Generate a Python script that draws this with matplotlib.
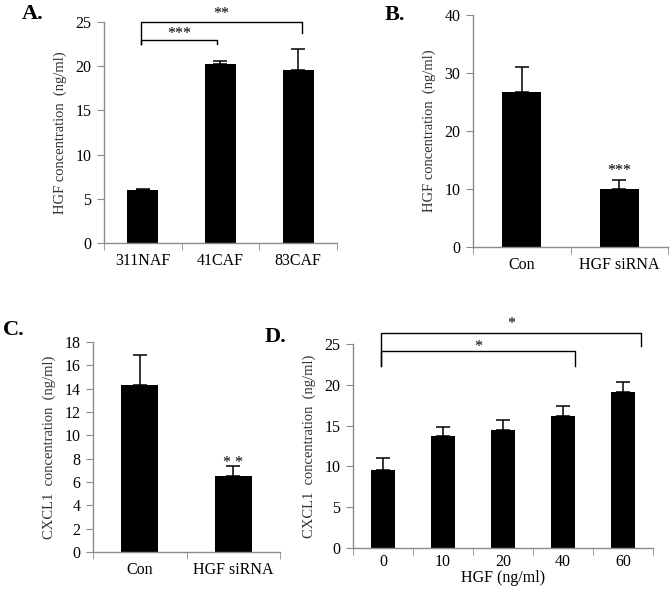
import numpy as np
from matplotlib import pyplot as plt

plt.rcParams['font.family'] = ['Liberation Serif', 'DejaVu Serif']

# panel A
a_cats = ["311NAF", "41CAF", "83CAF"]
a_vals = [6.0, 20.2, 19.6]
a_err = [0.1, 0.35, 2.3]

# panel B
b_cats = ["Con", "HGF siRNA"]
b_vals = [26.8, 10.0]
b_err = [4.2, 1.5]

# panel C
c_cats = ["Con", "HGF siRNA"]
c_vals = [14.3, 6.5]
c_err = [2.6, 0.9]

# panel D
d_cats = ["0", "10", "20", "40", "60"]
d_vals = [9.5, 13.7, 14.5, 16.2, 19.1]
d_err = [1.5, 1.1, 1.2, 1.2, 1.3]

W, H = 671, 590
fig = plt.figure(figsize=(W / 100, H / 100), dpi=100)

gray = "#8c8c8c"


def box(l, t, r, b):
    return [l / W, 1 - b / H, (r - l) / W, (b - t) / H]


def bars(ax, cats, vals, err, ymax, step, ylabel, bw=0.4, xpad=7):
    n = len(cats)
    x = np.arange(n)
    ax.bar(x, vals, width=bw, color="black", zorder=2)
    ax.errorbar(x, vals, yerr=[np.zeros(n), err], fmt="none", ecolor="black",
                elinewidth=1.1, capsize=5, capthick=1.1, zorder=3)
    ax.set_xlim(-0.5, n - 0.5)
    ax.set_ylim(0, ymax)
    ax.set_yticks(np.arange(0, ymax + 0.01, step))
    ax.set_xticks(x)
    ax.set_xticklabels(cats)
    ax.set_xticks(np.arange(-0.5, n, 1.0), minor=True)
    ax.tick_params(axis="x", which="major", length=0, labelsize=11.5, pad=xpad)
    ax.tick_params(axis="x", which="minor", length=5, color=gray, direction="out")
    ax.tick_params(axis="y", length=5, color=gray, labelsize=11.5, pad=4)
    for s in ["top", "right"]:
        ax.spines[s].set_visible(False)
    for s in ["left", "bottom"]:
        ax.spines[s].set_color(gray)
        ax.spines[s].set_linewidth(1.0)
    ax.set_ylabel(ylabel, fontsize=10.5, color="#333333", labelpad=6)


def bracket(ax, x1, x2, y, y1, y2, txt, ty):
    ax.plot([x1, x1, x2, x2], [y1, y, y, y2], color="black", lw=1.0,
            clip_on=False, zorder=4)
    ax.text((x1 + x2) / 2, ty, txt, ha="center", va="center", fontsize=11.5,
            clip_on=False)


# A
axA = fig.add_axes(box(104, 22, 337, 243))
bars(axA, a_cats, a_vals, a_err, 25, 5, "HGF concentration  (ng/ml)")
bracket(axA, -0.02, 0.96, 23.0, 22.5, 22.5, "***", 23.65)
bracket(axA, -0.02, 2.05, 25.0, 22.5, 23.8, "**", 25.95)

# B
axB = fig.add_axes(box(473, 15, 668, 247))
bars(axB, b_cats, b_vals, b_err, 40, 10, "HGF concentration  (ng/ml)")
axB.text(1, 13.1, "***", ha="center", va="center", fontsize=11.5)

# C
axC = fig.add_axes(box(93, 342, 280, 552))
bars(axC, c_cats, c_vals, c_err, 18, 2, "CXCL1  concentration  (ng/ml)")
axC.text(1, 7.65, "* *", ha="center", va="center", fontsize=11.5)

# D
axD = fig.add_axes(box(353, 344, 653, 548))
bars(axD, d_cats, d_vals, d_err, 25, 5, "CXCL1  concentration  (ng/ml)", bw=0.4, xpad=4)
axD.set_xlabel("HGF (ng/ml)", fontsize=11.5, labelpad=0)
bracket(axD, -0.04, 3.2, 24.2, 22.3, 22.3, "*", 24.6)
bracket(axD, -0.04, 4.3, 26.4, 22.3, 24.7, "*", 27.45)

# panel letters
for lab, px, py in [("A.", 22, 14), ("B.", 385, 15), ("C.", 3, 330), ("D.", 265, 337)]:
    fig.text(px / W, 1 - py / H, lab, fontsize=16, fontweight="bold",
             ha="left", va="center")

fig.savefig("out.png", dpi=100)
